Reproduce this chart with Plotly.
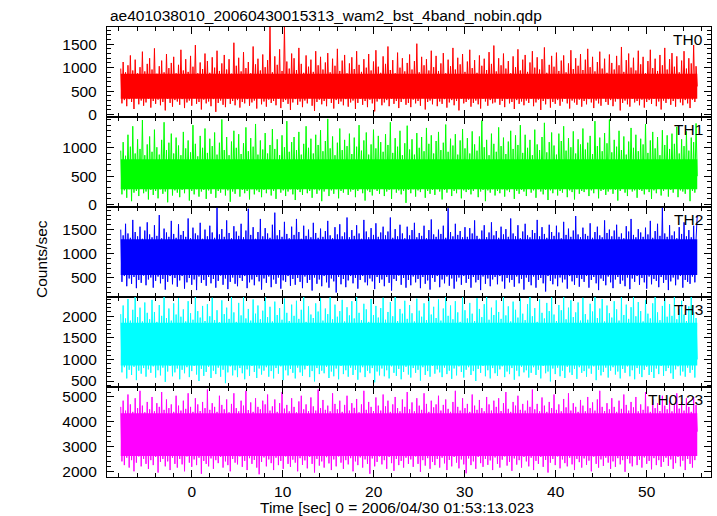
import numpy as np
import plotly.graph_objects as go

TITLE = "ae401038010_20060430015313_wam2_bst_4band_nobin.qdp"
X_TITLE = "Time [sec] 0 = 2006/04/30 01:53:13.023"
Y_TITLE = "Counts/sec"
LABELS = ["TH0", "TH1", "TH2", "TH3", "TH0123"]
COLORS = [(255, 0, 0), (0, 255, 0), (0, 0, 255), (0, 255, 255), (255, 0, 255)]

# light-curve sampling (start / end time of the data, sec)
T_START = -7.8
T_END = 55.56

# rate samples (counts/sec)
th0 = [
    980, 240, 1120, 310, 900, 180, 1050, 330, 1260, 270, 940, 120, 1170, 350, 880, 220, 1010, 300, 1340, 190, 920, 260, 1080, 340,
    1200, 150, 960, 290, 1410, 230, 870, 320, 1030, 200, 1150, 270, 900, 90, 1290, 340, 990, 250, 1100, 170, 1230, 310, 880, 280,
    1060, 210, 1380, 330, 940, 140, 1180, 260, 910, 300, 1250, 190, 1020, 350, 1480, 230, 880, 270, 1110, 110, 970, 320, 1300, 240,
    1140, 280, 890, 180, 1220, 330, 1000, 60, 1360, 250, 930, 300, 1090, 210, 1270, 160, 960, 340, 1180, 230, 870, 290, 1530, 200,
    1040, 310, 1210, 150, 920, 270, 1330, 240, 990, 330, 1120, 190, 880, 260, 1450, 300, 1070, 130, 1190, 350, 940, 220, 1280, 280,
    1010, 170, 1160, 320, 1880, 250, 900, 290, 1240, 200, 1060, 340, 1390, 140, 930, 270, 1880, 310, 1130, 230, 980, 100, 1300, 260,
    1200, 330, 950, 210, 1420, 280, 1080, 160, 890, 300, 1260, 240, 1020, 350, 1170, 190, 910, 80, 1350, 270, 1050, 320, 1230, 220,
    960, 290, 1110, 180, 1310, 340, 900, 250, 1190, 130, 1040, 310, 1400, 230, 930, 280, 1150, 200, 1270, 330, 880, 170, 1090, 260,
    1220, 300, 970, 120, 1350, 250, 1060, 340, 910, 210, 1180, 290, 1000, 160, 1290, 320, 940, 240, 1130, 70, 1370, 280, 1020, 330,
    890, 200, 1240, 260, 1080, 310, 1450, 180, 950, 340, 1160, 230, 880, 290, 1320, 140, 1000, 270, 1200, 330, 920, 210, 1100, 250,
    1280, 160, 960, 320, 1140, 240, 1510, 290, 900, 190, 1230, 350, 1050, 110, 1180, 270, 940, 300, 1360, 220, 1010, 340, 1250, 180,
    930, 280, 1090, 230, 1310, 330, 880, 150, 1170, 260, 1030, 310, 1420, 200, 960, 290, 1210, 90, 1070, 340, 1290, 240, 910, 270,
    1130, 320, 1380, 170, 990, 250, 1160, 300, 890, 220, 1260, 130, 1040, 340, 1190, 280, 950, 190, 1330, 310, 1080, 240, 1470, 260,
    920, 350, 1200, 210, 1050, 290, 1300, 160, 980, 330, 1140, 240, 880, 270, 1240, 120, 1010, 310, 1390, 230, 940, 280, 1170, 200,
    1270, 300, 910, 250, 1110, 340, 1350, 180, 1000, 260, 1220, 320, 960, 100, 1180, 290, 1430, 220, 890, 330, 1060, 150, 1250, 270,
    1020, 230, 1320, 310, 930, 190, 1150, 280, 1260, 340, 900, 240, 1090, 130, 1370, 300, 970, 260, 1200, 210, 1040, 320, 1290, 170,
    950, 290, 1170, 220, 1400, 330, 1010, 260, 1230, 140, 920, 300, 1120, 240, 1340, 190, 980, 350, 1190, 270, 890, 210, 1280, 310,
    1100, 180, 960, 280, 1250, 330, 1050, 90, 1440, 250, 910, 300, 1160, 220, 1300, 170, 1000, 340, 1210, 260, 940, 290, 1360, 200,
    1070, 320, 1230, 150, 880, 270, 1140, 310, 1380, 230, 990, 340, 1190, 180, 930, 280, 1270, 110, 1050, 300, 1420, 250, 960, 330,
    1180, 210, 1310, 290, 1020, 170, 1240, 330, 900, 260, 1150, 200, 1350, 310, 980, 240, 1200, 140, 1090, 320, 1480, 270, 1030, 600,
]

th1 = [
    950, 180, 1100, 250, 860, 120, 1230, 270, 1020, 60, 1380, 210, 900, 240, 1150, 150, 980, 280, 1490, 200, 870, 230, 1060, 90,
    1200, 260, 930, 170, 1320, 240, 1010, 110, 880, 270, 1140, 190, 1450, 230, 960, 40, 1090, 280, 1250, 160, 900, 250, 1180, 210,
    1040, 130, 870, 260, 1280, 200, 990, 280, 1130, 70, 920, 240, 1400, 180, 1070, 270, 850, 140, 1210, 230, 1000, 260, 1340, 100,
    910, 250, 1160, 190, 1030, 280, 1270, 120, 880, 240, 1090, 210, 1500, 270, 960, 160, 1190, 250, 870, 50, 1110, 230, 1300, 190,
    1000, 280, 1240, 140, 890, 260, 1080, 200, 1360, 240, 940, 90, 1170, 270, 1020, 180, 1420, 250, 880, 220, 1130, 130, 970, 260,
    1260, 200, 900, 270, 1050, 160, 1330, 240, 980, 100, 1150, 280, 870, 210, 1220, 250, 1010, 150, 1470, 230, 930, 270, 1100, 180,
    1190, 80, 960, 260, 1280, 220, 880, 170, 1070, 280, 1380, 200, 1000, 240, 1160, 120, 900, 270, 1230, 190, 1050, 250, 1310, 60,
    940, 230, 1120, 280, 1510, 150, 990, 250, 1200, 190, 870, 270, 1090, 110, 1340, 240, 960, 210, 1140, 280, 1030, 170, 1250, 230,
    890, 260, 1180, 130, 1020, 240, 1400, 280, 950, 200, 1130, 70, 1270, 250, 880, 220, 1060, 160, 1320, 270, 990, 240, 1210, 190,
    1100, 280, 930, 150, 1240, 230, 1050, 260, 1450, 100, 910, 270, 1170, 210, 1020, 250, 1300, 180, 870, 240, 1080, 30, 1390, 260,
    970, 200, 1150, 270, 880, 140, 1260, 250, 1000, 220, 1190, 280, 940, 120, 1350, 240, 1070, 190, 1220, 260, 900, 170, 1120, 270,
    1280, 230, 960, 90, 1090, 260, 1410, 210, 930, 280, 1160, 150, 1040, 240, 1240, 200, 880, 270, 1130, 110, 1330, 250, 990, 220,
    1170, 260, 900, 180, 1290, 240, 1060, 280, 950, 130, 1200, 230, 1480, 260, 1010, 60, 1140, 250, 870, 210, 1250, 270, 1070, 160,
    930, 240, 1360, 200, 1030, 270, 1180, 140, 890, 250, 1110, 220, 1300, 280, 980, 100, 1220, 240, 1050, 190, 1400, 260, 910, 230,
    1230, 150, 1000, 280, 1140, 210, 870, 250, 1320, 120, 1060, 270, 960, 230, 1190, 180, 1440, 260, 920, 80, 1100, 250, 1270, 200,
    1040, 270, 880, 160, 1250, 240, 1120, 210, 1380, 280, 950, 130, 1170, 250, 1010, 220, 1290, 90, 900, 270, 1150, 190, 1060, 240,
    1340, 220, 970, 270, 1090, 150, 1210, 250, 890, 200, 1470, 280, 1030, 110, 1180, 240, 940, 260, 1260, 170, 1080, 230, 1500, 270,
    920, 190, 1140, 260, 1020, 70, 1300, 240, 960, 280, 1200, 210, 880, 150, 1110, 270, 1350, 230, 1000, 250, 1230, 120, 940, 260,
    1160, 240, 1060, 180, 1420, 270, 910, 220, 1130, 100, 1280, 250, 990, 200, 1190, 280, 870, 160, 1310, 240, 1050, 270, 1220, 140,
    980, 260, 1250, 210, 1070, 280, 1370, 130, 900, 250, 1150, 230, 1030, 190, 1290, 270, 950, 60, 1180, 240, 1100, 210, 1430, 500,
]

th2 = [
    1500, 420, 1380, 540, 1620, 330, 1420, 490, 1330, 380, 1700, 520, 1450, 290, 1360, 460, 1560, 400, 1310, 550, 1480, 350, 1650, 470,
    1400, 510, 1340, 300, 1590, 440, 1370, 530, 1800, 390, 1320, 480, 1520, 260, 1440, 420, 1350, 540, 1680, 370, 1410, 500, 1330, 320,
    1610, 450, 1390, 540, 1470, 280, 1350, 410, 1730, 500, 1320, 360, 1540, 470, 1420, 250, 1380, 530, 1640, 400, 1310, 460, 1500, 340,
    1360, 520, 1580, 390, 1440, 480, 1330, 300, 1950, 440, 1400, 550, 1510, 360, 1350, 490, 1690, 270, 1430, 420, 1320, 510, 1570, 380,
    1460, 330, 1370, 500, 1620, 440, 1340, 540, 1480, 290, 1930, 410, 1390, 470, 1550, 350, 1310, 520, 1450, 430, 1720, 260, 1360, 490,
    1530, 400, 1420, 530, 1330, 310, 1600, 470, 1850, 380, 1380, 510, 1490, 280, 1350, 450, 1660, 420, 1410, 540, 1320, 340, 1560, 480,
    1390, 360, 1720, 500, 1450, 420, 1310, 290, 1580, 530, 1370, 400, 1500, 460, 1340, 240, 1640, 510, 1430, 380, 1330, 470, 1520, 330,
    1350, 540, 1470, 410, 1680, 300, 1380, 490, 1320, 430, 1550, 200, 1400, 520, 1610, 370, 1360, 480, 1440, 310, 1750, 450, 1340, 540,
    1490, 390, 1370, 500, 1590, 280, 1420, 460, 1310, 540, 1700, 410, 1460, 350, 1340, 490, 1530, 430, 1390, 270, 1630, 520, 1350, 400,
    1440, 470, 1560, 330, 1380, 520, 1460, 400, 1750, 240, 1330, 480, 1510, 440, 1360, 550, 1600, 360, 1420, 500, 1320, 300, 1560, 460,
    1380, 350, 1490, 530, 1640, 410, 1340, 480, 1430, 290, 1370, 520, 1580, 380, 1320, 450, 1490, 260, 1710, 500, 1400, 420, 1350, 540,
    1500, 310, 1410, 470, 1580, 390, 1330, 530, 1940, 340, 1450, 490, 1360, 280, 1620, 430, 1390, 510, 1470, 360, 1340, 540, 1550, 400,
    1350, 480, 1530, 300, 1420, 520, 1690, 410, 1370, 460, 1310, 250, 1480, 530, 1590, 380, 1340, 490, 1440, 330, 1650, 470, 1380, 520,
    1470, 370, 1330, 540, 1560, 430, 1400, 280, 1510, 500, 1350, 410, 1730, 460, 1420, 320, 1360, 530, 1590, 390, 1320, 480, 1460, 260,
    1620, 510, 1380, 420, 1340, 350, 1490, 530, 1430, 300, 1700, 460, 1360, 500, 1550, 390, 1410, 220, 1330, 540, 1600, 440, 1450, 370,
    1370, 490, 1580, 330, 1440, 510, 1320, 410, 1660, 470, 1390, 280, 1520, 540, 1350, 430, 1480, 360, 1780, 500, 1400, 320, 1340, 480,
    1540, 420, 1410, 540, 1370, 300, 1630, 460, 1330, 520, 1450, 390, 1560, 250, 1380, 490, 1340, 440, 1690, 350, 1430, 530, 1500, 410,
    1360, 290, 1480, 470, 1600, 520, 1350, 380, 1420, 450, 1320, 330, 1570, 510, 1460, 270, 1720, 490, 1390, 420, 1340, 540, 1510, 360,
    1440, 500, 1350, 410, 1540, 280, 1400, 530, 1680, 370, 1330, 480, 1470, 440, 1620, 310, 1370, 520, 1950, 400, 1420, 460, 1350, 250,
    1590, 430, 1380, 510, 1460, 350, 1320, 470, 1550, 540, 1410, 300, 1650, 460, 1360, 420, 1490, 380, 1340, 530, 1580, 410, 1300, 1800,
]

th3 = [
    2050, 700, 2250, 820, 1950, 560, 2400, 760, 1900, 640, 2150, 830, 2450, 520, 1980, 740, 2200, 670, 1880, 800, 2320, 600, 2080, 770,
    1930, 690, 2380, 840, 2100, 580, 1870, 750, 2260, 630, 2010, 810, 2450, 480, 1960, 720, 2180, 850, 1900, 610, 2300, 700, 2040, 790,
    2420, 540, 1990, 760, 2160, 680, 1880, 820, 2350, 590, 2070, 730, 1920, 850, 2450, 650, 2120, 500, 1970, 780, 2240, 620, 1890, 710,
    2280, 830, 2000, 570, 2430, 740, 1910, 660, 2140, 810, 1860, 600, 2370, 760, 2050, 450, 2200, 700, 1940, 840, 2450, 630, 2090, 750,
    1870, 590, 2310, 800, 2020, 680, 2450, 540, 1950, 770, 2170, 620, 1900, 850, 2390, 710, 2060, 570, 2250, 790, 1930, 650, 2130, 740,
    2450, 820, 1980, 600, 2220, 730, 1880, 560, 2340, 800, 2030, 670, 2190, 840, 1920, 520, 2410, 750, 2080, 630, 1890, 780, 2270, 690,
    2010, 560, 2360, 810, 1940, 700, 2150, 620, 2450, 770, 1870, 850, 2230, 590, 2040, 730, 1960, 490, 2300, 800, 2110, 660, 2420, 740,
    1900, 680, 2180, 830, 2050, 570, 2440, 720, 1930, 610, 2270, 790, 1990, 540, 2120, 850, 2380, 660, 1880, 750, 2210, 600, 2020, 810,
    2350, 640, 1950, 760, 2450, 530, 2080, 700, 1910, 820, 2290, 590, 2160, 740, 1870, 680, 2400, 800, 2030, 470, 2240, 720, 1970, 630,
    2190, 790, 2430, 610, 1920, 750, 2100, 560, 2330, 840, 2000, 690, 2450, 620, 1890, 780, 2170, 540, 2060, 710, 2360, 830, 1940, 650,
    2260, 580, 2070, 800, 1880, 690, 2410, 760, 2130, 510, 1990, 820, 2300, 640, 1910, 730, 2450, 600, 2040, 850, 2220, 670, 1960, 770,
    2390, 700, 1900, 590, 2180, 810, 2450, 660, 2010, 740, 2250, 550, 1930, 790, 2350, 630, 2090, 840, 1870, 710, 2440, 580, 2140, 760,
    1950, 820, 2310, 640, 2060, 730, 1890, 500, 2420, 780, 2170, 690, 1980, 850, 2280, 610, 2450, 750, 1920, 560, 2200, 800, 2030, 680,
    2370, 620, 2100, 770, 1940, 840, 2450, 590, 2020, 720, 2230, 660, 1880, 800, 2340, 530, 2150, 740, 1970, 610, 2410, 830, 2060, 700,
    1910, 750, 2280, 580, 2450, 690, 2000, 820, 2190, 640, 1870, 760, 2390, 560, 2080, 850, 1950, 680, 2310, 720, 2120, 490, 2440, 790,
    2040, 660, 1890, 810, 2260, 610, 2140, 740, 2450, 570, 1930, 830, 2200, 700, 2370, 640, 1980, 780, 2090, 550, 2320, 820, 1900, 690,
    2430, 730, 2050, 600, 1920, 790, 2290, 670, 2110, 840, 2450, 520, 1960, 760, 2180, 630, 2400, 710, 1880, 810, 2250, 580, 2070, 740,
    1970, 820, 2350, 650, 2160, 720, 1900, 560, 2440, 780, 2030, 690, 2270, 840, 1940, 610, 2210, 750, 2450, 540, 2000, 800, 2330, 670,
    2120, 590, 1880, 760, 2380, 830, 2060, 640, 1950, 710, 2300, 570, 2450, 790, 2090, 660, 1910, 850, 2240, 620, 2420, 730, 1990, 800,
    2280, 680, 2010, 550, 2450, 770, 1930, 840, 2170, 630, 2360, 720, 2040, 600, 1890, 810, 2230, 690, 2450, 760, 2100, 580, 1960, 1000,
]

th0123 = [
    4600, 2400, 4850, 2250, 4450, 2550, 5100, 2150, 4700, 2450, 4400, 2000, 4950, 2350, 4550, 2600, 5250, 2200, 4650, 2500, 4380, 2300, 4800, 2100,
    4500, 2450, 5000, 2250, 4420, 2580, 4750, 1950, 4600, 2380, 5200, 2500, 4480, 2200, 4900, 2400, 4550, 2050, 4700, 2550, 4400, 2300, 5050, 2150,
    4650, 2500, 4450, 2280, 4850, 2000, 4520, 2600, 5150, 2350, 4600, 2180, 4400, 2480, 4950, 2250, 4700, 2550, 4430, 1900, 4800, 2420, 4550, 2300,
    5300, 2200, 4480, 2520, 4750, 2100, 4600, 2450, 4400, 2330, 5050, 2580, 4680, 2150, 4500, 2400, 4900, 2250, 4380, 2000, 4720, 2500, 5150, 2350,
    4550, 2280, 4420, 2600, 4850, 2180, 4650, 2420, 5250, 2050, 4470, 2530, 4780, 2300, 4400, 2460, 4950, 2150, 4600, 1880, 4500, 2380, 4850, 2560,
    4700, 2200, 5100, 2480, 4450, 2330, 4620, 2050, 4900, 2550, 4400, 2250, 4750, 2420, 5200, 2100, 4530, 2600, 4680, 2300, 4420, 2180, 4950, 2470,
    4600, 2350, 4380, 2000, 4820, 2530, 5050, 2260, 4500, 2440, 4700, 2120, 4430, 2580, 4980, 2300, 4620, 1950, 4450, 2500, 5300, 2230, 4550, 2400,
    4880, 2150, 4480, 2570, 4650, 2320, 4420, 2050, 5150, 2480, 4720, 2200, 4500, 2600, 4850, 2350, 4400, 2100, 4680, 2450, 5050, 2280, 4450, 2530,
    4750, 2000, 4560, 2400, 4920, 2250, 4380, 2560, 4700, 2150, 5250, 2480, 4480, 2300, 4800, 1900, 4600, 2520, 4430, 2200, 4980, 2380, 4650, 2600,
    4450, 2280, 5100, 2450, 4620, 2100, 4850, 2580, 4400, 2330, 4700, 2020, 5000, 2500, 4550, 2250, 4420, 2420, 4900, 2150, 4600, 2550, 5200, 2300,
    4500, 2480, 4780, 2180, 4420, 2600, 4950, 2300, 4650, 1980, 4480, 2450, 5150, 2230, 4720, 2530, 4400, 2100, 4850, 2380, 4580, 2250, 4700, 2500,
    5050, 2150, 4450, 2550, 4680, 2320, 4900, 2050, 4520, 2460, 4400, 2200, 4800, 2580, 5250, 2350, 4600, 2120, 4450, 2480, 4950, 2280, 4550, 1920,
    4720, 2520, 4400, 2250, 5100, 2400, 4650, 2100, 4480, 2580, 4880, 2330, 4550, 2180, 4420, 2500, 5000, 2260, 4700, 2440, 4450, 2050, 4850, 2560,
    4600, 2300, 4950, 2150, 4430, 2470, 4750, 2600, 5200, 2230, 4520, 2380, 4400, 2020, 4800, 2520, 4650, 2270, 5050, 2450, 4480, 2150, 4720, 2580,
    4450, 2400, 4850, 2200, 4600, 2550, 5300, 2050, 4500, 2420, 4720, 2300, 4420, 2580, 4980, 2180, 4650, 2460, 4400, 1950, 4800, 2350, 4550, 2500,
    5100, 2250, 4480, 2600, 4700, 2120, 4420, 2480, 4920, 2330, 4580, 2200, 5150, 2550, 4450, 2280, 4750, 2050, 4600, 2500, 4400, 2370, 4880, 2150,
    4650, 2520, 4420, 2260, 5000, 2430, 4550, 2000, 4780, 2590, 4450, 2300, 4900, 2150, 5250, 2480, 4600, 2220, 4430, 2550, 4750, 2350, 4500, 2100,
    4950, 2400, 4600, 2180, 4400, 2530, 4850, 2280, 4520, 2450, 5100, 1980, 4680, 2500, 4450, 2320, 4800, 2200, 4580, 2600, 5000, 2250, 4420, 2470,
    4700, 2150, 4480, 2560, 5200, 2300, 4620, 2420, 4400, 2080, 4900, 2530, 4550, 2250, 4750, 2450, 4430, 2180, 5050, 2380, 4650, 2550, 4500, 2220,
    4850, 2480, 4420, 2100, 4700, 2330, 5150, 2580, 4530, 2200, 4800, 2430, 4450, 2050, 4950, 2500, 4600, 2300, 4400, 2150, 5000, 2450, 4680, 3600,
]

# lower / upper edge of the dense (solid) part of each light curve
core_lo = [340, 270, 560, 860, 2620]
core_hi = [870, 800, 1300, 1850, 4340]

SERIES = [th0, th1, th2, th3, th0123]
Y_RANGES = [[-50, 1865], [-43, 1543], [107, 1967], [361, 2447], [1770, 5403]]
Y_TICKS = [[0, 500, 1000, 1500], [0, 500, 1000], [500, 1000, 1500],
           [500, 1000, 1500, 2000], [2000, 3000, 4000, 5000]]
Y_MINOR = [100, 100, 100, 100, 200]
X_RANGE = [-9.31, 57.07]

W, H = 717, 516
ML, MR, MT, MB = 107, 6, 27, 39
PW = W - ML - MR
PH = H - MT - MB
FONT = "Liberation Sans, Arial, Helvetica, sans-serif"
FS = 15.5


def rgba(c, a):
    return f"rgba({c[0]},{c[1]},{c[2]},{a})"


fig = go.Figure()
n_panels = len(SERIES)
for i, vals in enumerate(SERIES):
    xa = "x" if i == 0 else f"x{i+1}"
    ya = "y" if i == 0 else f"y{i+1}"
    band_x = [T_START, T_END, T_END, T_START]
    band_y = [core_hi[i], core_hi[i], core_lo[i], core_lo[i]]
    fig.add_trace(go.Scatter(
        x=band_x, y=band_y, mode="lines", fill="toself",
        fillcolor=rgba(COLORS[i], 1), line=dict(width=0),
        xaxis=xa, yaxis=ya, showlegend=False, hoverinfo="skip",
    ))
    t = np.linspace(T_START, T_END, len(vals))
    fig.add_trace(go.Scatter(
        x=t, y=vals, mode="lines",
        line=dict(color=rgba(COLORS[i], 1), width=1, simplify=False),
        xaxis=xa, yaxis=ya, showlegend=False, hoverinfo="skip",
    ))

axis_common = dict(
    showline=True, linecolor="black", linewidth=1.3, mirror="allticks",
    ticks="inside", tickcolor="black", tickwidth=1, showgrid=False, zeroline=False,
)

layout = dict(
    width=W, height=H,
    margin=dict(l=ML, r=MR, t=MT, b=MB),
    paper_bgcolor="white", plot_bgcolor="white",
    font=dict(family=FONT, size=FS, color="black"),
    showlegend=False,
)

annotations = []
for i in range(n_panels):
    top = 1 - i / n_panels
    bot = 1 - (i + 1) / n_panels
    xname = "xaxis" if i == 0 else f"xaxis{i+1}"
    yname = "yaxis" if i == 0 else f"yaxis{i+1}"
    ysuffix = "y" if i == 0 else f"y{i+1}"
    xsuffix = "x" if i == 0 else f"x{i+1}"
    xa = dict(
        axis_common, domain=[0, 1], anchor=ysuffix, range=X_RANGE,
        tick0=0, dtick=10, ticklen=7,
        showticklabels=(i == n_panels - 1),
        minor=dict(dtick=2, tick0=0, ticklen=4, ticks="inside", tickcolor="black"),
    )
    if i > 0:
        xa["matches"] = "x"
    layout[xname] = xa
    layout[yname] = dict(
        axis_common, domain=[bot, top], anchor=xsuffix, range=Y_RANGES[i],
        tickmode="array", tickvals=Y_TICKS[i], ticklen=7,
        ticklabelstandoff=6,
        minor=dict(dtick=Y_MINOR[i], tick0=0, ticklen=4, ticks="inside", tickcolor="black"),
    )
    annotations.append(dict(
        text=LABELS[i], xref="paper", yref="paper",
        x=(705 - ML) / PW, y=top - 2 / PH, xanchor="right", yanchor="top",
        showarrow=False, font=dict(size=FS, color="black"),
    ))

annotations.append(dict(text=TITLE, xref="paper", yref="paper", x=0, y=1 + (MT - 15.5) / PH,
                        xanchor="left", yanchor="middle", showarrow=False, xshift=1,
                        font=dict(size=FS)))
annotations.append(dict(text=X_TITLE, xref="paper", yref="paper", x=(397 - ML) / PW,
                        y=-(507 - (H - MB)) / PH, xanchor="center", yanchor="middle",
                        showarrow=False, font=dict(size=FS)))
annotations.append(dict(text=Y_TITLE, xref="paper", yref="paper", x=(41 - ML) / PW,
                        y=((H - MB) - 259) / PH, xanchor="center", yanchor="middle",
                        textangle=-90, showarrow=False, font=dict(size=FS)))
layout["annotations"] = annotations

fig.update_layout(**layout)
fig.write_html("out.html", post_script="document.body.style.margin='0px';",
               config={"displayModeBar": False})
